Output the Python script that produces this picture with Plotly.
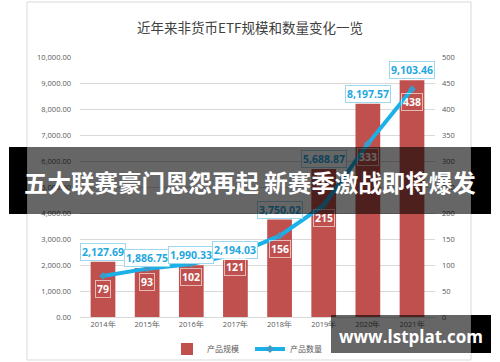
import plotly.graph_objects as go

years = ["2014年", "2015年", "2016年", "2017年", "2018年", "2019年", "2020年", "2021年"]
scale = [2127.69, 1886.75, 1990.33, 2194.03, 3750.02, 5688.87, 8197.57, 9103.46]
count = [79, 93, 102, 121, 156, 215, 333, 438]

title_text = "近年来非货币ETF规模和数量变化一览"
banner_text = "五大联赛豪门恩怨再起 新赛季激战即将爆发"
watermark_text = "www.lstplat.com"

W, H = 500, 362
L, R, T, B = 80, 65, 57, 45
PW, PH = W - L - R, H - T - B


def px(x):
    return (x - L) / PW


def py(y):
    return (H - B - y) / PH


fig = go.Figure()
fig.add_trace(go.Bar(
    x=years, y=scale, name="产品规模",
    marker=dict(color="#C0504D", line=dict(width=0)),
    width=0.56, hoverinfo="skip",
))
fig.add_trace(go.Scatter(
    x=years, y=count, name="产品数量", yaxis="y2",
    mode="lines+markers",
    line=dict(color="#1CB0E8", width=4),
    marker=dict(symbol="diamond", size=6, color="#3E9BC9"),
    hoverinfo="skip",
))

ann = []
# title
ann.append(dict(text=title_text, x=px(250), y=py(27), xref="paper", yref="paper",
                showarrow=False, xanchor="center", yanchor="middle",
                font=dict(family="Noto Sans CJK SC", size=13.5, color="#404040")))
# value labels
for c, v in zip(years, scale):
    ann.append(dict(text=f"{v:,.2f}", x=c, y=v, xref="x", yref="y", showarrow=False,
                    xanchor="center", yanchor="middle", yshift=10,
                    font=dict(family="Open Sans", size=10.5, color="#1FA8E0", weight="bold"),
                    bgcolor="white", bordercolor="#9ED8EE", borderwidth=1, borderpad=1))
# count labels
for c, n in zip(years, count):
    ann.append(dict(text=str(n), x=c, y=n, xref="x", yref="y2", showarrow=False,
                    xanchor="center", yanchor="middle", yshift=-13,
                    font=dict(family="Open Sans", size=10.5, color="white", weight="bold"),
                    bgcolor="rgba(0,0,0,0)", bordercolor="rgba(255,255,255,0.6)",
                    borderwidth=1, borderpad=1))
# banner overlay
ann.append(dict(text=" ", x=px(249.5), y=py(180.5), xref="paper", yref="paper",
                showarrow=False, xanchor="center", yanchor="middle",
                width=445, height=67, borderpad=0, borderwidth=0,
                bgcolor="rgba(0,0,0,0.6)"))
ann.append(dict(text=banner_text, x=px(250), y=py(182), xref="paper", yref="paper",
                showarrow=False, xanchor="center", yanchor="middle",
                font=dict(family="Noto Sans CJK SC", size=23.5, color="white", weight="bold")))
# watermark overlay
ann.append(dict(text=" ", x=px(401), y=py(334), xref="paper", yref="paper",
                showarrow=False, xanchor="center", yanchor="middle",
                width=140, height=38, borderpad=0, borderwidth=0,
                bgcolor="rgba(0,0,0,0.6)"))
ann.append(dict(text=watermark_text, x=px(411), y=py(336), xref="paper", yref="paper",
                showarrow=False, xanchor="center", yanchor="middle",
                font=dict(family="Open Sans", size=17, color="white", weight="bold")))

shapes = [
    dict(type="rect", xref="paper", yref="paper", x0=px(27), x1=px(471), y0=py(2), y1=py(360),
         line=dict(color="#D9D9D9", width=1), fillcolor="rgba(0,0,0,0)", layer="below"),
    dict(type="rect", xref="paper", yref="paper", x0=px(9), x1=px(27), y0=py(147), y1=py(214),
         line=dict(width=0), fillcolor="black", layer="above"),
    dict(type="rect", xref="paper", yref="paper", x0=px(471), x1=px(491), y0=py(147), y1=py(214),
         line=dict(width=0), fillcolor="black", layer="above"),
    dict(type="rect", xref="paper", yref="paper", x0=px(471), x1=px(491), y0=py(315), y1=py(353),
         line=dict(width=0), fillcolor="black", layer="above"),
]

tickfont = dict(family="Open Sans", size=7.5, color="#595959")
fig.update_layout(
    width=W, height=H, margin=dict(l=L, r=R, t=T, b=B, autoexpand=False),
    paper_bgcolor="white", plot_bgcolor="white",
    showlegend=True,
    legend=dict(orientation="h", x=px(250), xanchor="center", y=py(349), yanchor="middle",
                font=dict(family="Noto Sans CJK SC", size=8, color="#595959"),
                bgcolor="rgba(0,0,0,0)", itemwidth=30, traceorder="normal",
                entrywidth=38, entrywidthmode="pixels"),
    xaxis=dict(showline=True, linecolor="#D9D9D9", linewidth=1, tickfont=tickfont,
               showgrid=False, ticks="", fixedrange=True, automargin=False),
    yaxis=dict(range=[0, 10000], dtick=1000, tickformat=",.2f", tickfont=tickfont,
               gridcolor="#D9D9D9", gridwidth=1, zeroline=False, showline=False,
               ticklabelstandoff=8, fixedrange=True, automargin=False),
    yaxis2=dict(range=[0, 500], dtick=50, overlaying="y", side="right", tickfont=tickfont,
                showgrid=False, zeroline=False, showline=False, ticklabelstandoff=6,
                fixedrange=True, automargin=False),
    annotations=ann, shapes=shapes,
    bargap=0.44,
)
fig.write_html("out.html", config={"displayModeBar": False},
               post_script="document.body.style.margin='0';document.body.style.overflow='hidden';")
